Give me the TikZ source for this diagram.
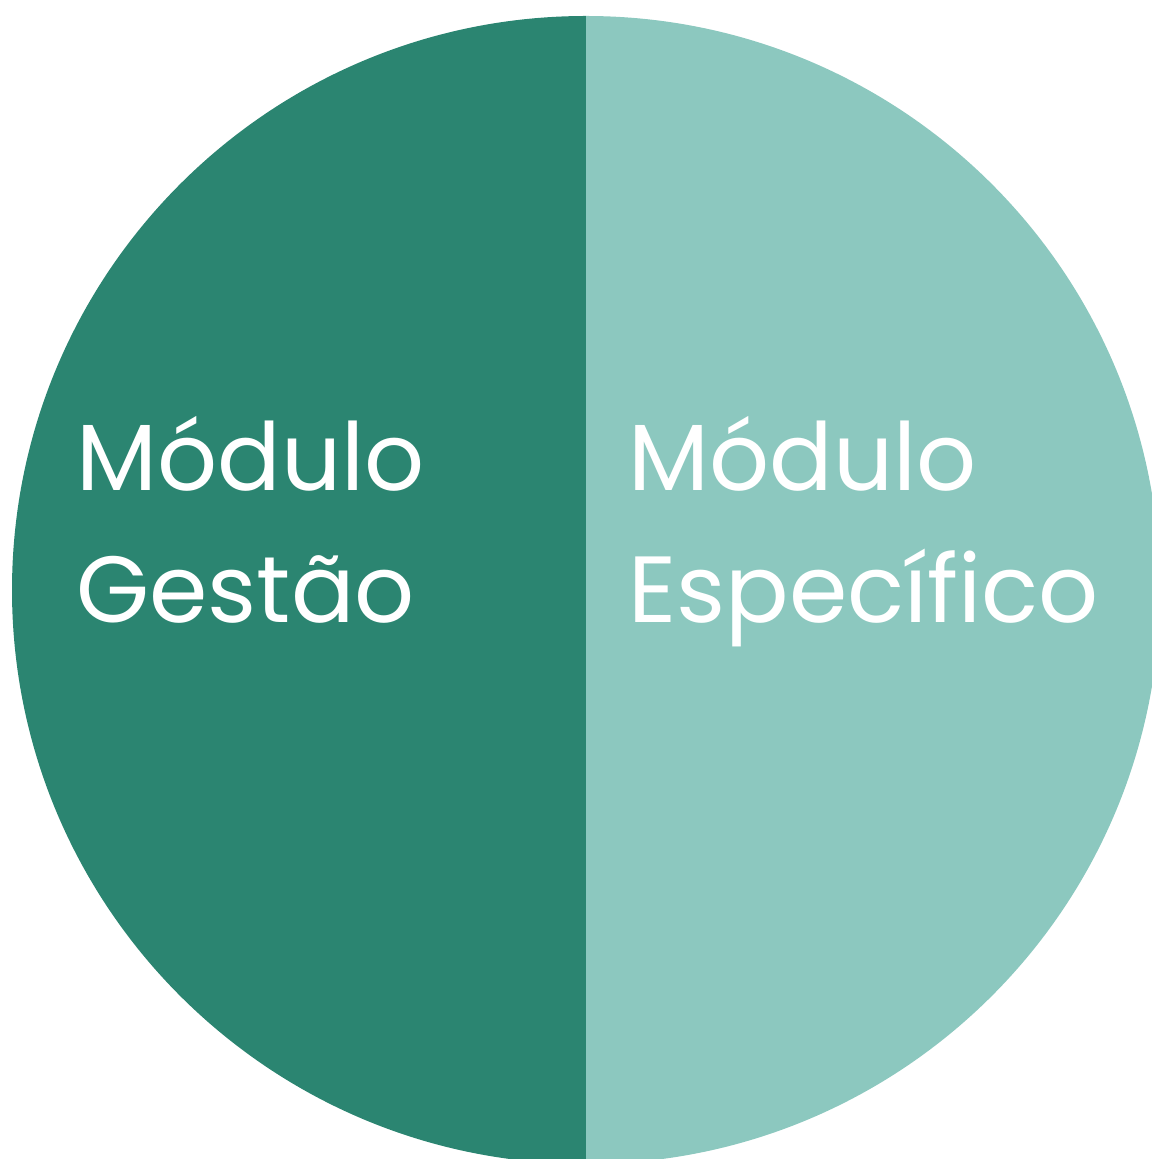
\documentclass[tikz,border=0pt]{standalone}
\usepackage{fontspec}
\setmainfont{Poppins}
\usetikzlibrary{positioning}

\definecolor{verdeEscuro}{HTML}{2B8571}
\definecolor{verdeClaro}{HTML}{8CC8BF}

\begin{document}
\begin{tikzpicture}[x=0.5pt, y=-0.5pt,
    rotulo/.style={text=white, font=\fontsize{47}{56}\selectfont, inner sep=0pt, anchor=base west}]

        % Canvas
        \useasboundingbox (0,0) rectangle (1151,1159);

        % Halves
        \begin{scope}
            \clip (586,590) circle [radius=574];
            \fill[verdeEscuro] (0,0) rectangle (586,1200);
            \fill[verdeClaro] (586,0) rectangle (1200,1200);
        \end{scope}

        % Labels
        \node (modG) [rotulo] at (76,490) {Módulo};
        \node (gestao) [rotulo] at (76,622) {Gestão};
        \node (modE) [rotulo] at (628,490) {Módulo};
        \node (especifico) [rotulo] at (628,622) {Específico};

\end{tikzpicture}
\end{document}
